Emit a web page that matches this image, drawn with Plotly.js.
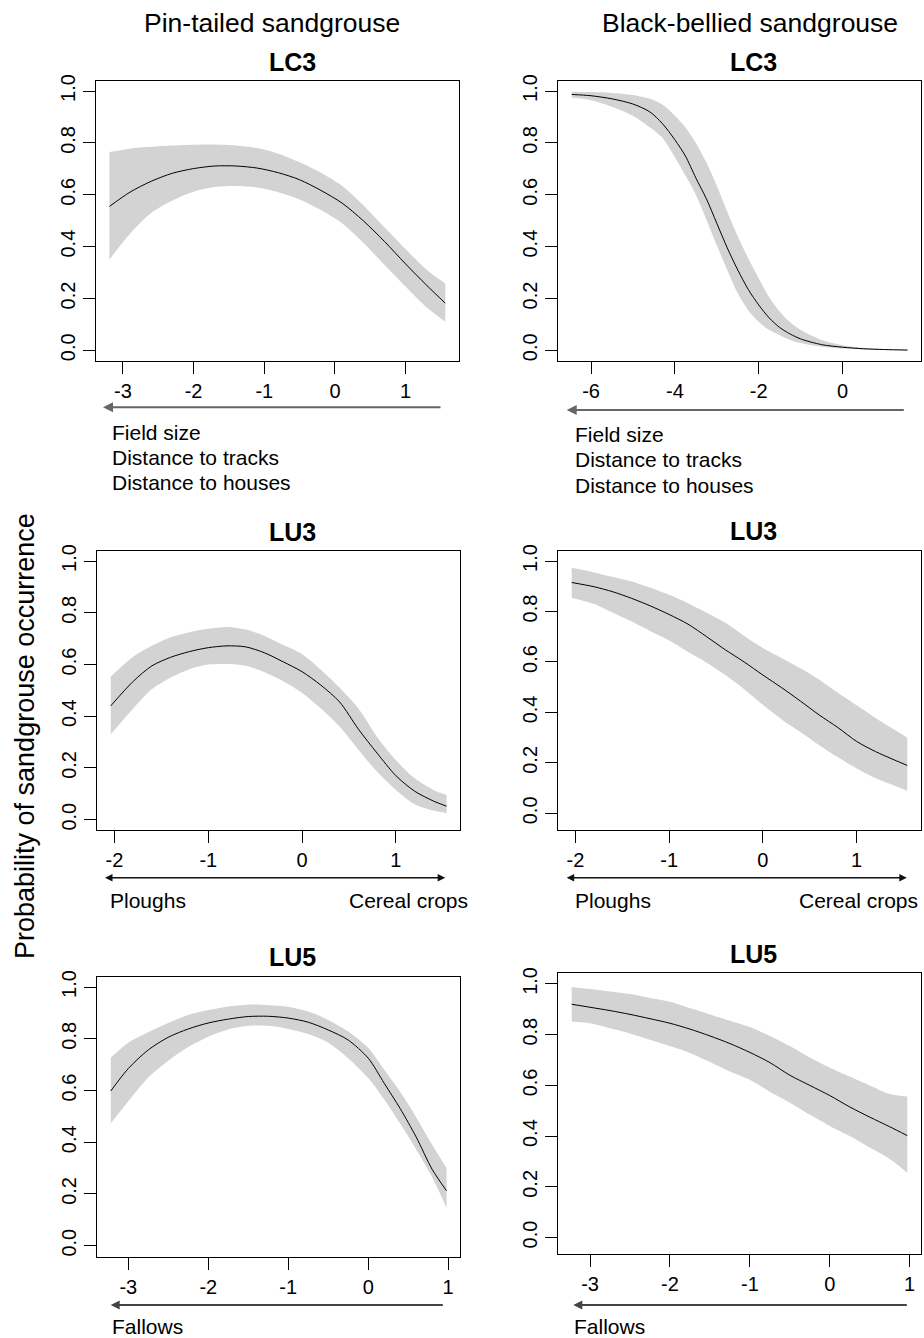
<!DOCTYPE html>
<html>
<head>
<meta charset="utf-8">
<script src="https://cdn.plot.ly/plotly-3.0.1.min.js"></script>
<style>
  html, body { margin: 0; padding: 0; background: #ffffff; }
  #chart { width: 924px; height: 1338px; }
</style>
</head>
<body>
<div id="chart"></div>
<script>
// ---- Fitted probability curves with confidence bands ----

// Pin-tailed sandgrouse, LC3
const ptLC3_x     = [-3.19, -2.9, -2.6, -2.3, -2.0, -1.7, -1.4, -1.1, -0.8, -0.5, -0.2, 0.1, 0.4, 0.7, 1.0, 1.3, 1.56];
const ptLC3_fit   = [0.555, 0.61, 0.652, 0.683, 0.701, 0.711, 0.711, 0.703, 0.685, 0.658, 0.617, 0.568, 0.50, 0.42, 0.333, 0.25, 0.182];
const ptLC3_upper = [0.765, 0.778, 0.785, 0.79, 0.793, 0.794, 0.79, 0.78, 0.758, 0.725, 0.685, 0.635, 0.56, 0.475, 0.39, 0.31, 0.258];
const ptLC3_lower = [0.35, 0.45, 0.53, 0.578, 0.612, 0.63, 0.634, 0.628, 0.61, 0.582, 0.541, 0.49, 0.415, 0.33, 0.245, 0.165, 0.11];

// Black-bellied sandgrouse, LC3
const bbLC3_x     = [-6.46, -6.0, -5.5, -5.0, -4.6, -4.3, -4.0, -3.75, -3.5, -3.25, -3.0, -2.75, -2.5, -2.25, -2.0, -1.75, -1.5, -1.25, -1.0, -0.5, 0.0, 0.5, 1.0, 1.55];
const bbLC3_fit   = [0.987, 0.982, 0.970, 0.950, 0.920, 0.875, 0.812, 0.75, 0.665, 0.585, 0.49, 0.395, 0.31, 0.235, 0.175, 0.125, 0.088, 0.063, 0.044, 0.022, 0.012, 0.006, 0.003, 0.001];
const bbLC3_upper = [0.997, 0.996, 0.993, 0.985, 0.97, 0.948, 0.905, 0.86, 0.80, 0.725, 0.635, 0.535, 0.44, 0.355, 0.278, 0.205, 0.15, 0.108, 0.078, 0.04, 0.02, 0.01, 0.005, 0.002];
const bbLC3_lower = [0.975, 0.965, 0.94, 0.905, 0.86, 0.82, 0.745, 0.675, 0.60, 0.505, 0.405, 0.31, 0.22, 0.155, 0.11, 0.078, 0.058, 0.04, 0.028, 0.014, 0.007, 0.003, 0.001, 0.0];

// Pin-tailed sandgrouse, LU3
const ptLU3_x     = [-2.04, -1.8, -1.6, -1.4, -1.2, -1.0, -0.8, -0.6, -0.4, -0.2, 0.0, 0.2, 0.4, 0.6, 0.8, 1.0, 1.2, 1.4, 1.54];
const ptLU3_fit   = [0.44, 0.535, 0.595, 0.628, 0.65, 0.665, 0.672, 0.668, 0.645, 0.61, 0.572, 0.52, 0.455, 0.35, 0.257, 0.17, 0.11, 0.072, 0.052];
const ptLU3_upper = [0.553, 0.63, 0.672, 0.705, 0.725, 0.738, 0.745, 0.735, 0.71, 0.675, 0.64, 0.58, 0.51, 0.43, 0.32, 0.23, 0.16, 0.115, 0.095];
const ptLU3_lower = [0.33, 0.43, 0.505, 0.55, 0.582, 0.6, 0.602, 0.595, 0.57, 0.535, 0.49, 0.43, 0.36, 0.27, 0.185, 0.115, 0.06, 0.035, 0.025];

// Black-bellied sandgrouse, LU3
const bbLU3_x     = [-2.04, -1.8, -1.6, -1.4, -1.2, -1.0, -0.8, -0.6, -0.4, -0.2, 0.0, 0.2, 0.4, 0.6, 0.8, 1.0, 1.2, 1.4, 1.54];
const bbLU3_fit   = [0.915, 0.898, 0.878, 0.852, 0.822, 0.788, 0.75, 0.70, 0.648, 0.6, 0.548, 0.498, 0.445, 0.39, 0.34, 0.285, 0.245, 0.212, 0.19];
const bbLU3_upper = [0.973, 0.955, 0.937, 0.919, 0.894, 0.866, 0.833, 0.795, 0.755, 0.703, 0.655, 0.615, 0.575, 0.53, 0.478, 0.428, 0.378, 0.332, 0.30];
const bbLU3_lower = [0.855, 0.83, 0.795, 0.76, 0.722, 0.685, 0.64, 0.597, 0.548, 0.492, 0.43, 0.372, 0.322, 0.27, 0.222, 0.178, 0.14, 0.11, 0.09];

// Pin-tailed sandgrouse, LU5
const ptLU5_x     = [-3.22, -3.0, -2.75, -2.5, -2.25, -2.0, -1.75, -1.5, -1.25, -1.0, -0.75, -0.5, -0.25, 0.0, 0.2, 0.4, 0.6, 0.8, 0.98];
const ptLU5_fit   = [0.598, 0.685, 0.757, 0.806, 0.838, 0.861, 0.876, 0.886, 0.887, 0.88, 0.864, 0.834, 0.795, 0.725, 0.628, 0.53, 0.42, 0.295, 0.212];
const ptLU5_upper = [0.727, 0.785, 0.825, 0.861, 0.892, 0.911, 0.925, 0.932, 0.93, 0.924, 0.905, 0.873, 0.828, 0.765, 0.68, 0.595, 0.497, 0.39, 0.30];
const ptLU5_lower = [0.472, 0.558, 0.65, 0.715, 0.768, 0.808, 0.836, 0.85, 0.85, 0.838, 0.818, 0.785, 0.725, 0.648, 0.565, 0.472, 0.372, 0.265, 0.147];

// Black-bellied sandgrouse, LU5
const bbLU5_x     = [-3.23, -3.0, -2.75, -2.5, -2.25, -2.0, -1.75, -1.5, -1.25, -1.0, -0.75, -0.5, -0.25, 0.0, 0.25, 0.5, 0.75, 0.97];
const bbLU5_fit   = [0.92, 0.908, 0.895, 0.88, 0.863, 0.845, 0.822, 0.795, 0.765, 0.73, 0.69, 0.64, 0.6, 0.56, 0.515, 0.475, 0.437, 0.402];
const bbLU5_upper = [0.988, 0.98, 0.97, 0.96, 0.945, 0.93, 0.905, 0.88, 0.855, 0.83, 0.795, 0.755, 0.71, 0.67, 0.635, 0.6, 0.566, 0.556];
const bbLU5_lower = [0.852, 0.845, 0.825, 0.805, 0.78, 0.755, 0.728, 0.692, 0.655, 0.622, 0.575, 0.532, 0.485, 0.44, 0.4, 0.355, 0.31, 0.256];

// ---- Tick labels ----
const ticksLC3_pt = ['-3', '-2', '-1', '0', '1'];
const ticksLC3_bb = ['-6', '-4', '-2', '0'];
const ticksLU3    = ['-2', '-1', '0', '1'];
const ticksLU5    = ['-3', '-2', '-1', '0', '1'];
const yTicks      = ['0.0', '0.2', '0.4', '0.6', '0.8', '1.0'];

// ---- Text ----
const speciesNames = ['Pin-tailed sandgrouse', 'Black-bellied sandgrouse'];
const variableNames = ['LC3', 'LU3', 'LU5'];
const lc3Gradient = ['Field size', 'Distance to tracks', 'Distance to houses'];
const lu3Ends = ['Ploughs', 'Cereal crops'];
const lu5End = 'Fallows';
const yTitle = 'Probability of sandgrouse occurrence';

// ---- Page geometry (pixels -> paper fractions) ----
const W = 924, H = 1338;
const PX = v => v / W;
const PY = v => 1 - v / H;
const FONT = 'Liberation Sans, Arial, Helvetica, sans-serif';
const BAND = '#d3d3d3';

// Panel boxes in pixels: [left, right, top, bottom]
const panels = [
  { x: ptLC3_x, fit: ptLC3_fit, up: ptLC3_upper, lo: ptLC3_lower, ticks: ticksLC3_pt, box: [96, 458.7, 80.7, 360.7], yr: [-0.04, 1.04] },
  { x: bbLC3_x, fit: bbLC3_fit, up: bbLC3_upper, lo: bbLC3_lower, ticks: ticksLC3_bb, box: [558.3, 921, 80.7, 360.7], yr: [-0.04, 1.04] },
  { x: ptLU3_x, fit: ptLU3_fit, up: ptLU3_upper, lo: ptLU3_lower, ticks: ticksLU3, box: [97.3, 460, 550.7, 830], yr: [-0.04, 1.04] },
  { x: bbLU3_x, fit: bbLU3_fit, up: bbLU3_upper, lo: bbLU3_lower, ticks: ticksLU3, box: [558.3, 920.7, 550.7, 830], yr: [-0.066, 1.041] },
  { x: ptLU5_x, fit: ptLU5_fit, up: ptLU5_upper, lo: ptLU5_lower, ticks: ticksLU5, box: [97.3, 460, 976.7, 1257.3], yr: [-0.045, 1.04] },
  { x: bbLU5_x, fit: bbLU5_fit, up: bbLU5_upper, lo: bbLU5_lower, ticks: ticksLU5, box: [558.3, 920.7, 973.3, 1254.3], yr: [-0.066, 1.042] }
];

const traces = [];
const layout = {
  width: W, height: H,
  margin: { l: 0, r: 0, t: 0, b: 0 },
  paper_bgcolor: '#ffffff',
  plot_bgcolor: '#ffffff',
  showlegend: false,
  font: { family: FONT, color: '#000000' },
  annotations: []
};

panels.forEach((p, i) => {
  const n = i === 0 ? '' : String(i + 1);
  const xa = 'x' + n, ya = 'y' + n;

  // confidence band: lower edge, then upper edge filled down to it
  traces.push({
    type: 'scatter', mode: 'lines', xaxis: xa, yaxis: ya,
    x: p.x, y: p.lo,
    line: { width: 0, color: BAND, shape: 'spline', smoothing: 0.8 }, hoverinfo: 'skip'
  });
  traces.push({
    type: 'scatter', mode: 'lines', xaxis: xa, yaxis: ya,
    x: p.x, y: p.up, fill: 'tonexty', fillcolor: BAND,
    line: { width: 0, color: BAND, shape: 'spline', smoothing: 0.8 }, hoverinfo: 'skip'
  });
  // fitted curve
  traces.push({
    type: 'scatter', mode: 'lines', xaxis: xa, yaxis: ya,
    x: p.x, y: p.fit,
    line: { color: '#000000', width: 1, shape: 'spline', smoothing: 0.8 }
  });

  const xmin = Math.min(...p.x), xmax = Math.max(...p.x);
  const pad = 0.04 * (xmax - xmin);
  const [l, r, t, b] = p.box;

  const common = {
    showgrid: false, zeroline: false,
    showline: true, linecolor: '#000000', linewidth: 1, mirror: true,
    ticks: 'outside', ticklen: 12, tickwidth: 1, tickcolor: '#000000',
    tickfont: { family: FONT, size: 20, color: '#000000' },
    tickmode: 'array', fixedrange: true
  };
  layout['xaxis' + n] = Object.assign({}, common, {
    domain: [PX(l), PX(r)], anchor: ya,
    range: [xmin - pad, xmax + pad],
    tickvals: p.ticks.map(Number), ticktext: p.ticks
  });
  layout['yaxis' + n] = Object.assign({}, common, {
    domain: [PY(b), PY(t)], anchor: xa,
    range: p.yr,
    tickvals: yTicks.map(Number), ticktext: yTicks,
    tickangle: -90
  });
});

const ann = layout.annotations;
function text(t, x, y, opts) {
  ann.push(Object.assign({
    text: t, xref: 'paper', yref: 'paper', x: PX(x), y: PY(y),
    showarrow: false, xanchor: 'center', yanchor: 'middle',
    font: { family: FONT, size: 21, color: '#000000' }
  }, opts || {}));
}
function arrow(xHead, xTail, y, color, width, both) {
  ann.push({
    text: '', xref: 'paper', yref: 'paper', x: PX(xHead), y: PY(y),
    ax: xTail - xHead, ay: 0, axref: 'pixel', ayref: 'pixel',
    showarrow: true, arrowhead: 2, arrowsize: 1, arrowwidth: width,
    arrowcolor: color, arrowside: both ? 'end+start' : 'end', standoff: 0, startstandoff: 0
  });
}

// species column headings
text(speciesNames[0], 272, 23, { font: { family: FONT, size: 26.5, color: '#000' } });
text(speciesNames[1], 750, 23, { font: { family: FONT, size: 26.5, color: '#000' } });

// panel titles
const bold = { family: FONT, size: 25, color: '#000' };
text('<b>' + variableNames[0] + '</b>', 292, 62, { font: bold });
text('<b>' + variableNames[0] + '</b>', 753, 62, { font: bold });
text('<b>' + variableNames[1] + '</b>', 292.7, 532, { font: bold });
text('<b>' + variableNames[1] + '</b>', 753, 531, { font: bold });
text('<b>' + variableNames[2] + '</b>', 292.7, 957, { font: bold });
text('<b>' + variableNames[2] + '</b>', 753, 954, { font: bold });

// shared y title
text(yTitle, 25, 736, { textangle: -90, font: { family: FONT, size: 27, color: '#000' } });

// gradient arrows and their labels
arrow(103, 442, 407.3, '#666666', 2, false);
lc3Gradient.forEach((s, k) => text(s, 110, 432 + k * 25.3, { xanchor: 'left' }));
arrow(566.7, 905.3, 410, '#666666', 2, false);
lc3Gradient.forEach((s, k) => text(s, 573.3, 434 + k * 25.5, { xanchor: 'left' }));

arrow(105, 446.7, 877.7, '#111111', 1.5, true);
text(lu3Ends[0], 108, 900, { xanchor: 'left' });
text(lu3Ends[1], 470, 900, { xanchor: 'right' });
arrow(566.7, 908.3, 877.7, '#111111', 1.5, true);
text(lu3Ends[0], 573.3, 900, { xanchor: 'left' });
text(lu3Ends[1], 919.5, 900, { xanchor: 'right' });

arrow(110.7, 444.3, 1305, '#444444', 1.8, false);
text(lu5End, 110, 1326, { xanchor: 'left' });
arrow(573.3, 908.3, 1305, '#444444', 1.8, false);
text(lu5End, 571.7, 1326, { xanchor: 'left' });

Plotly.newPlot('chart', traces, layout, { staticPlot: true, displayModeBar: false });
</script>
</body>
</html>
